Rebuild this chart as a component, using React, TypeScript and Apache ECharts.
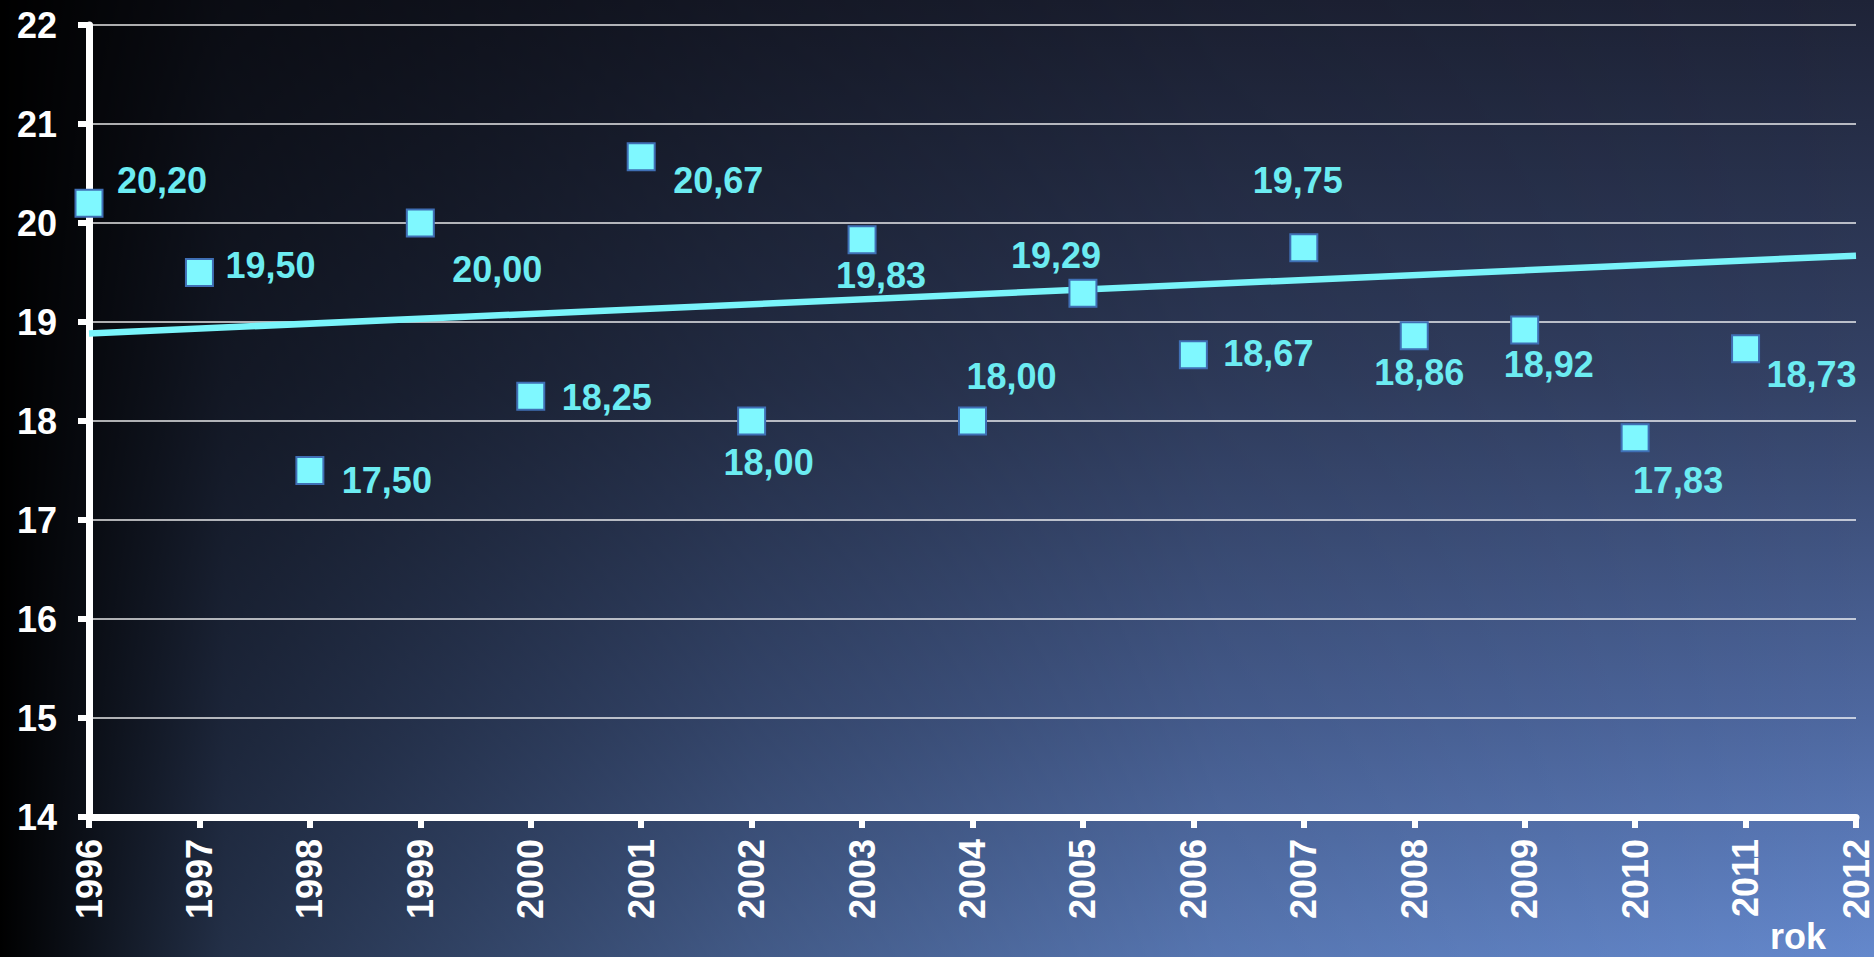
import React, { useEffect, useRef } from "react";
import * as echarts from "echarts";

const years = [1996, 1997, 1998, 1999, 2000, 2001, 2002, 2003, 2004, 2005, 2006, 2007, 2008, 2009, 2010, 2011];
const values = [20.2, 19.5, 17.5, 20.0, 18.25, 20.67, 18.0, 19.83, 18.0, 19.29, 18.67, 19.75, 18.86, 18.92, 17.83, 18.73];
const trendYears = [1996, 2012];
const trendValues = [18.885, 19.67];
const axisName = "rok";

// label offsets (layout only)
const labelOffsets: [number, number][] = [
  [73, -23], [71, -7], [77, 10], [77, 46], [76, 1], [77, 24], [17, 41], [19, 36],
  [39, -45], [-27, -38], [75, -1], [-6, -67], [5, 37], [24, 35], [43, 43], [66, 26],
];

const FONT = '"Liberation Sans", Arial, sans-serif';

export default function App() {
  const ref = useRef<HTMLDivElement>(null);
  useEffect(() => {
    if (!ref.current) return;
    const chart = echarts.init(ref.current, null, { renderer: "svg" });
    chart.setOption({
      animation: false,
      backgroundColor: "transparent",
      grid: { left: 89, right: 18, top: 25, bottom: 140, containLabel: false },
      xAxis: {
        type: "value",
        min: 1996,
        max: 2012,
        interval: 1,
        axisLine: { show: true, onZero: false, lineStyle: { color: "#ffffff", width: 7 } },
        axisTick: { show: true, length: 11, lineStyle: { color: "#ffffff", width: 6 } },
        axisLabel: {
          rotate: 90,
          margin: 22,
          color: "#ffffff",
          fontSize: 36,
          fontWeight: "bold",
          fontFamily: FONT,
          formatter: (v: number) => String(v),
        },
        splitLine: { show: false },
      },
      yAxis: {
        type: "value",
        min: 14,
        max: 22,
        interval: 1,
        axisLine: { show: true, onZero: false, lineStyle: { color: "#ffffff", width: 7 } },
        axisTick: { show: true, length: 11, lineStyle: { color: "#ffffff", width: 6 } },
        axisLabel: {
          margin: 32,
          color: "#ffffff",
          fontSize: 36,
          fontWeight: "bold",
          fontFamily: FONT,
        },
        splitLine: { show: true, lineStyle: { color: "rgba(255,255,255,0.9)", width: 1.5 } },
      },
      graphic: [
        {
          type: "text",
          right: 48,
          bottom: 3,
          style: {
            text: axisName,
            fill: "#ffffff",
            font: `bold 36px ${FONT}`,
          },
        },
      ],
      series: [
        {
          type: "line",
          data: trendYears.map((y, i) => [y, trendValues[i]]),
          showSymbol: false,
          symbol: "none",
          lineStyle: { color: "#79f4fa", width: 6.5, opacity: 1 },
          z: 2,
          silent: true,
        },
        {
          type: "scatter",
          symbol: "rect",
          symbolSize: 27,
          itemStyle: { color: "#7ff8ff", borderColor: "#3f6fb5", borderWidth: 2, opacity: 1 },
          z: 3,
          label: {
            show: true,
            position: "inside",
            align: "center",
            verticalAlign: "middle",
            color: "#6cecf2",
            opacity: 1,
            fontSize: 36,
            fontWeight: "bold",
            fontFamily: FONT,
            formatter: (p: any) => p.value[1].toFixed(2).replace(".", ","),
          },
          data: years.map((y, i) => ({
            value: [y, values[i]],
            label: { offset: labelOffsets[i] },
          })),
        },
      ],
    });
    return () => chart.dispose();
  }, []);

  return (
    <div
      style={{
        position: "absolute",
        left: 0,
        top: 0,
        width: 1874,
        height: 957,
        overflow: "hidden",
        backgroundImage:
          "linear-gradient(to right, #000000 0%, #5a5a5a 12%, #a8a8a8 40%, #dddddd 65%, #ffffff 100%), linear-gradient(to bottom, rgb(30,35,55) 0%, rgb(52,66,102) 40%, rgb(78,104,160) 75%, rgb(100,136,204) 100%)",
        backgroundBlendMode: "multiply",
      }}
    >
      <div ref={ref} style={{ width: 1874, height: 957 }} />
    </div>
  );
}
